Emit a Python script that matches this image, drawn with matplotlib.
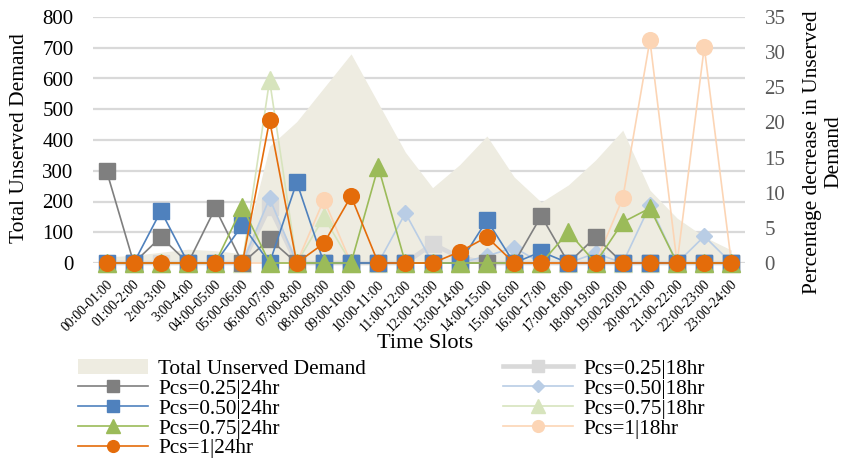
import matplotlib.pyplot as plt
import matplotlib.transforms as mtransforms

plt.rcParams['font.family'] = 'Liberation Serif'

slots = ["00:00-01:00", "01:00-2:00", "2:00-3:00", "3:00-4:00", "04:00-05:00",
         "05:00-06:00", "06:00-07:00", "07:00-8:00", "08:00-09:00", "09:00-10:00",
         "10:00-11:00", "11:00-12:00", "12:00-13:00", "13:00-14:00", "14:00-15:00",
         "15:00-16:00", "16:00-17:00", "17:00-18:00", "18:00-19:00", "19:00-20:00",
         "20:00-21:00", "21:00-22:00", "22:00-23:00", "23:00-24:00"]

# total unserved demand (left axis)
total_unserved = [20, 25, 35, 45, 40, 30, 380, 460, 570, 680, 520, 360,
                  245, 320, 413, 280, 198, 254, 335, 432, 237, 146, 85, 42]

# percentage decrease (right axis)
pcs025_24 = [13.1, 0, 3.7, 0, 7.8, 0, 3.4, 0, 0, 0, 0, 0,
             0, 0, 0, 0, 6.7, 0, 3.7, 0, 0, 0, 0, 0]
pcs050_24 = [0, 0, 7.4, 0, 0, 5.4, 0, 11.5, 0, 0, 0, 0,
             0, 0, 6.1, 0, 1.6, 0, 0, 0, 0, 0, 0, 0]
pcs075_24 = [0, 0, 0, 0, 0, 8.0, 0, 0, 0, 0, 13.7, 0,
             0, 0, 0, 0, 0, 4.4, 0, 5.8, 7.8, 0, 0, 0]
pcs1_24 = [0, 0, 0, 0, 0, 0, 20.3, 0, 2.8, 9.5, 0, 0,
           0, 1.6, 3.7, 0, 0, 0, 0, 0, 0, 0, 0, 0]
pcs025_18 = [0, 0, 0, 0, 0, 0, 8.0, 0, 0, 0, 0, 0,
             2.7, 0.8, 0, 0, 0, 0, 0, 0, 0, 0, 0, 0]
pcs050_18 = [0, 0, 0, 0, 0, 0, 9.2, 0, 0, 0, 0, 7.1,
             0, 0, 1.0, 2.2, 0, 0, 1.4, 0, 8.2, 0, 3.8, 0]
pcs075_18 = [0, 0, 0, 0, 0, 0, 26.0, 0, 6.5, 0, 0, 0,
             0, 0, 0, 0, 0, 0, 0, 0, 0, 0, 0, 0]
pcs1_18 = [0, 0, 0, 0, 0, 0, 0, 0, 9.0, 0, 0, 0,
           0, 0, 0, 0, 0, 0, 0, 9.2, 31.7, 0, 30.7, 0]

x = list(range(len(slots)))

fig = plt.figure(figsize=(8.46, 4.65), dpi=100)
ax = fig.add_axes([93 / 846, 1 - 263 / 465, 652 / 846, 246 / 465])
ax2 = ax.twinx()

area = ax.fill_between(x, total_unserved, color='#eeece1', lw=0, zorder=2,
                       label='Total Unserved Demand')
ax.set_xlim(-0.5, 23.5)
ax.set_ylim(0, 800)
ax.set_yticks(range(0, 801, 100))
ax.yaxis.grid(True, color='#d9d9d9', lw=1.6, zorder=1)
ax.set_axisbelow(True)
ax.set_xticks(x)
ax.set_xticklabels(slots, rotation=45, ha='right', va='center',
                   rotation_mode='anchor', fontsize=9.8)
ax.tick_params(axis='x', length=0, pad=14)
ax.tick_params(axis='y', length=0, pad=14, labelsize=15, labelcolor='black')
# nudge the slot labels a little to the right
shift = mtransforms.ScaledTranslation(4 / 100, 0, fig.dpi_scale_trans)
for lbl in ax.get_xticklabels():
    lbl.set_transform(lbl.get_transform() + shift)

ax2.set_ylim(0, 35)
ax2.set_yticks(range(0, 36, 5))
ax2.tick_params(axis='y', length=0, pad=14, labelsize=15, labelcolor='#595959')

for a in (ax, ax2):
    for s in a.spines.values():
        s.set_visible(False)

lw = 1.2
# 18 hr series go underneath the 24 hr ones
series = [
    (pcs025_18, '#d9d9d9', 's', 11.5, 3.3, 'Pcs=0.25|18hr'),
    (pcs050_18, '#b9cde5', 'D', 8.5, lw, 'Pcs=0.50|18hr'),
    (pcs075_18, '#d7e4bd', '^', 12.5, lw, 'Pcs=0.75|18hr'),
    (pcs1_18, '#fcd5b5', 'o', 11.3, lw, 'Pcs=1|18hr'),
    (pcs025_24, '#7f7f7f', 's', 11.5, lw, 'Pcs=0.25|24hr'),
    (pcs050_24, '#4f81bd', 's', 11.5, lw, 'Pcs=0.50|24hr'),
    (pcs075_24, '#9bbb59', '^', 12.5, lw, 'Pcs=0.75|24hr'),
    (pcs1_24, '#e46c0a', 'o', 11.3, lw, 'Pcs=1|24hr'),
]
handles = {}
for vals, col, mk, ms, w, name in series:
    ln, = ax2.plot(x, vals, color=col, marker=mk, ms=ms, mec=col, mfc=col,
                   lw=w, clip_on=False, label=name)
    handles[name] = ln

fig.text(20 / 846, 1 - 138 / 465, 'Total Unserved Demand', rotation=90,
         ha='center', va='center', fontsize=15.5)
fig.text(823 / 846, 1 - 152 / 465, 'Percentage decrease in Unserved\nDemand',
         rotation=90, ha='center', va='center', fontsize=15.5,
         multialignment='center', linespacing=1.15)
fig.text(425 / 846, 1 - 343 / 465, 'Time Slots', ha='center', va='center',
         fontsize=16)

order = ['Pcs=0.25|24hr', 'Pcs=0.50|24hr', 'Pcs=0.75|24hr', 'Pcs=1|24hr',
         'Pcs=0.25|18hr', 'Pcs=0.50|18hr', 'Pcs=0.75|18hr', 'Pcs=1|18hr']
leg_handles = [area] + [handles[n] for n in order]
leg_labels = ['Total Unserved Demand'] + order
fig.legend(leg_handles, leg_labels, loc='upper left',
           bbox_to_anchor=(78 / 846, 1 - 359 / 465), ncol=2, frameon=False,
           fontsize=15.3, handlelength=3.3, handletextpad=0.48,
           columnspacing=6.45, labelspacing=0.0, borderpad=0,
           borderaxespad=0, markerscale=0.75)

fig.savefig('out.png', dpi=100)
